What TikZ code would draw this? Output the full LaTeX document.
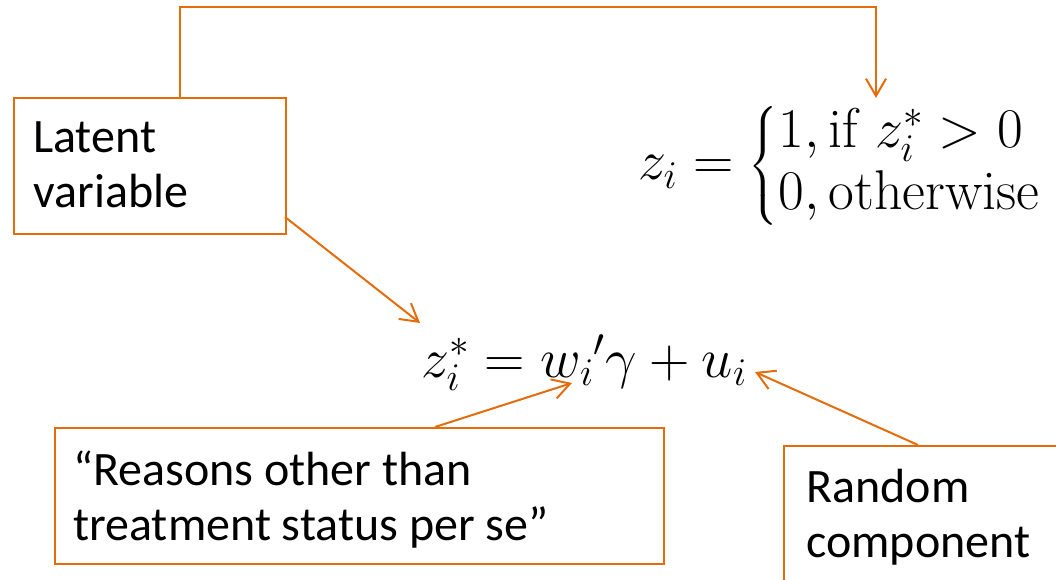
\RequirePackage{fix-cm}
\documentclass[tikz,border=0pt]{standalone}
\usepackage{amsmath}
\usepackage{fontspec}
\newfontfamily\calibri{Carlito}
\usetikzlibrary{arrows.meta}
\definecolor{accent}{RGB}{228,108,10}
\tikzset{
  box/.style={draw=accent, line width=1.5pt, rectangle, inner sep=0pt},
  label/.style={anchor=north west, align=left, inner sep=0pt, font=\calibri\fontsize{36pt}{41.25pt}\selectfont},
  conn/.style={draw=accent, line width=1.5pt, -{Straight Barb[length=13pt,width=15pt,line width=1.5pt]}},
  formula/.style={inner sep=0pt, font=\fontsize{42pt}{48pt}\selectfont}
}
\begin{document}
\begin{tikzpicture}[x=0.75pt,y=-0.75pt]
\useasboundingbox (0,0) rectangle (1056,580);
\clip (0,0) rectangle (1056,580);
% boxes
\node[box, anchor=north west, minimum width=272*0.75pt, minimum height=136*0.75pt] (latentbox) at (13,97) {};
\node[box, anchor=north west, minimum width=609*0.75pt, minimum height=136*0.75pt] (reasonbox) at (54,427) {};
\node[box, anchor=north west, minimum width=300*0.75pt, minimum height=160*0.75pt] (randombox) at (783,445) {};
% texts
\node[label] (latenttext) at (33,121) {Latent\\variable};
\node[label] (reasontext) at (73,451) {“Reasons other than\\treatment status per se”};
\node[label] (randomtext) at (806,469) {Random\\component};
% formulas
\node[formula, anchor=west] (zi) at (638,166) {$z_i=\left\{\renewcommand{\arraystretch}{0.97}\begin{array}{@{}l@{}}1,\text{if }z_i^{*}>0\\0,\text{otherwise}\end{array}\right.$};
\node[formula] (zstar) at (584,363) {$z_i^{*}=w_i{}'\gamma+u_i$};
% connector coordinates
\coordinate (top1) at (180,97);
\coordinate (top2) at (180,7);
\coordinate (top3) at (876,7);
\coordinate (ziTip) at (876,98);
\coordinate (latentOut) at (285,217);
\coordinate (zsTip) at (420,323);
\coordinate (reasonOut) at (435,427);
\coordinate (wTip) at (572,383);
\coordinate (randomOut) at (918,445);
\coordinate (uTip) at (755,372);
% connectors
\draw[conn] (top1) -- (top2) -- (top3) -- (ziTip);
\draw[conn] (latentOut) -- (zsTip);
\draw[conn] (reasonOut) -- (wTip);
\draw[conn] (randomOut) -- (uTip);
\end{tikzpicture}
\end{document}
